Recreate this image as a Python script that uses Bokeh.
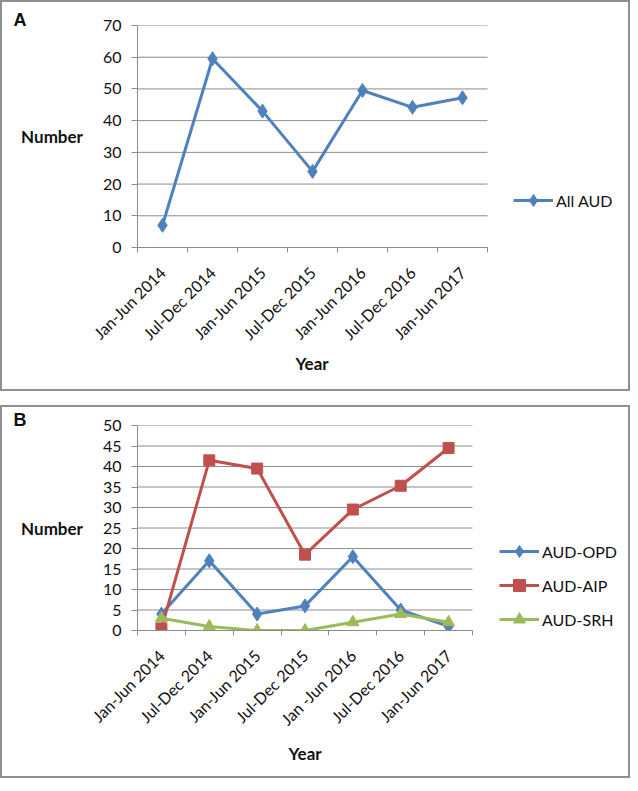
from math import pi
from bokeh.plotting import figure
from bokeh.models import FixedTicker, Range1d, Legend, LegendItem, Title
from bokeh.layouts import column
from bokeh.embed import file_html
from bokeh.resources import INLINE

# ---- data ----
periods_a = ["Jan-Jun 2014", "Jul-Dec 2014", "Jan-Jun 2015", "Jul-Dec 2015",
             "Jan-Jun 2016", "Jul-Dec 2016", "Jan-Jun 2017"]
periods_b = ["Jan-Jun 2014", "Jul-Dec 2014", "Jan-Jun 2015", "Jul-Dec 2015",
             "Jan -Jun 2016", "Jul-Dec 2016", "Jan-Jun 2017"]
all_aud = [7, 59.5, 43, 24, 49.5, 44.2, 47.2]
aud_opd = [4, 17, 4, 6, 18, 5, 1]
aud_aip = [0.5, 41.5, 39.5, 18.5, 29.5, 35.3, 44.5]
aud_srh = [3, 1, 0, 0, 2, 4, 2]
yticks_a = [0, 10, 20, 30, 40, 50, 60, 70]
yticks_b = [0, 5, 10, 15, 20, 25, 30, 35, 40, 45, 50]

BLUE = "#4F81BD"
RED = "#C0504D"
GREEN = "#9BBB59"
GRID = "#8c8c8c"
INK = "#111111"
FONT = "Lato"


def make_fig(w, h, mbl, mbr, mbt, mbb, x_end, ymax, yticks, periods,
             letter, letter_standoff, year_offset, year_standoff):
    n = len(periods)
    p = figure(width=w, height=h, x_range=Range1d(-0.5, x_end),
               y_range=Range1d(0, ymax), output_backend="svg",
               toolbar_location=None, min_border_left=mbl, min_border_right=mbr,
               min_border_top=mbt, min_border_bottom=mbb)
    p.styles = {"border": "2px solid #8f8f8f"}
    p.outline_line_color = None
    p.background_fill_color = "white"
    p.border_fill_color = "white"
    p.xgrid.grid_line_color = None
    p.ygrid.grid_line_color = None
    # horizontal gridlines limited to the category area
    p.segment(x0=[-0.5] * len(yticks), x1=[n - 0.5] * len(yticks),
              y0=yticks, y1=yticks, line_color=GRID, line_width=1)

    p.title = Title(text=letter, align="left", offset=-124,
                    standoff=letter_standoff, text_font="Liberation Sans",
                    text_font_style="bold", text_font_size="18px",
                    text_color=INK)

    xa = p.xaxis[0]
    xa.bounds = (-0.5, n - 0.5)
    xa.ticker = FixedTicker(ticks=list(range(n)),
                            minor_ticks=[i - 0.5 for i in range(n + 1)])
    xa.major_label_overrides = {i: lab for i, lab in enumerate(periods)}
    xa.major_tick_out = 0
    xa.major_tick_in = 0
    xa.minor_tick_out = 5
    xa.minor_tick_in = 0
    xa.minor_tick_line_color = GRID
    xa.axis_line_color = GRID
    xa.major_label_orientation = pi / 4
    xa.major_label_standoff = 17
    xa.major_label_text_font = FONT
    xa.major_label_text_font_size = "16px"
    xa.major_label_text_color = INK

    # x-axis title, centred under the category area (not the legend area)
    p.add_layout(Title(text="Year", align="left", offset=year_offset,
                       standoff=year_standoff, text_font=FONT,
                       text_font_style="bold", text_font_size="17px",
                       text_color=INK), "below")

    ya = p.yaxis[0]
    ya.ticker = FixedTicker(ticks=yticks, minor_ticks=[])
    ya.major_tick_out = 6
    ya.major_tick_in = 0
    ya.minor_tick_out = 0
    ya.minor_tick_in = 0
    ya.major_tick_line_color = GRID
    ya.axis_line_color = GRID
    ya.major_label_standoff = 10
    ya.major_label_text_font = FONT
    ya.major_label_text_font_size = "16px"
    ya.major_label_text_color = INK
    ya.axis_label = "Number"
    ya.axis_label_orientation = "horizontal"
    ya.axis_label_text_font = FONT
    ya.axis_label_text_font_style = "bold"
    ya.axis_label_text_font_size = "17px"
    ya.axis_label_text_color = INK
    ya.axis_label_standoff = 17
    return p


def add_series(p, ys, color, marker, size):
    xs = list(range(len(ys)))
    r1 = p.line(xs, ys, line_width=3, line_color=color)
    r2 = p.scatter(xs, ys, marker=marker, size=size,
                   fill_color=color, line_color=color)
    return [r1, r2]


def add_legend(p, items, loc, gh, spacing):
    lg = Legend(items=items, location=loc, padding=0, margin=0,
                border_line_color=None, background_fill_alpha=0,
                glyph_width=40, glyph_height=gh, label_height=gh,
                label_standoff=3, spacing=spacing,
                label_text_font=FONT, label_text_font_size="16px",
                label_text_color=INK)
    p.add_layout(lg)


# ---- panel A : 50 px per category ----
pa = make_fig(630, 391, 135, 7, 23, 146, -0.5 + 488 / 50.0, 70, yticks_a,
              periods_a, "A", -9, 158, -3)
ra = add_series(pa, all_aud, BLUE, "diamond", 14)
add_legend(pa, [LegendItem(label="All AUD", renderers=ra)], (376, 32), 30, 4)

# ---- panel B : 335/7 px per category ----
pb = make_fig(630, 373, 135, 7, 18, 150, -0.5 + 488 / (335 / 7.0), 50,
              yticks_b, periods_b, "B", -8, 151, 4)
r_opd = add_series(pb, aud_opd, BLUE, "diamond", 14)
r_aip = add_series(pb, aud_aip, RED, "square", 11)
r_srh = add_series(pb, aud_srh, GREEN, "triangle", 12)
add_legend(pb, [LegendItem(label="AUD-OPD", renderers=r_opd),
                LegendItem(label="AUD-AIP", renderers=r_aip),
                LegendItem(label="AUD-SRH", renderers=r_srh)], (362, -4), 30, 4)

layout = column(pa, pb, spacing=14)
open("out.html", "w").write(file_html(layout, INLINE))
